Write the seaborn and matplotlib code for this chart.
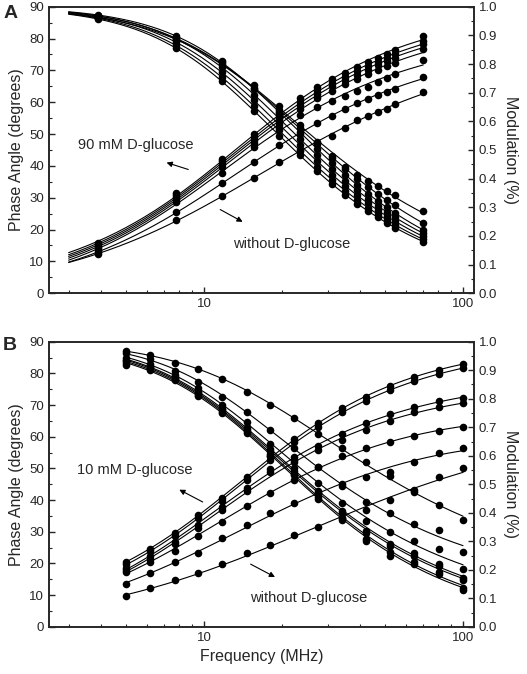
import numpy as np
import pandas as pd
import matplotlib
matplotlib.use('Agg')
import matplotlib.pyplot as plt
from matplotlib.ticker import MultipleLocator, LogLocator, NullFormatter, FormatStrFormatter
import seaborn as sns

# Panel A: harmonics of ~3.9 MHz, 90 mM D-glucose series
freq_a = [3.9, 7.8, 11.7, 15.6, 19.5, 23.4, 27.3, 31.2, 35.1, 39.0, 42.9, 46.8, 50.7, 54.6, 70.2]
phase_a = [
    [15.8, 31.5, 42.3, 50.0, 56.5, 61.2, 64.7, 67.3, 69.2, 71.0, 72.6, 74.0, 75.2, 76.4, 80.8],
    [15.3, 30.8, 41.4, 49.0, 55.5, 60.0, 63.5, 66.0, 68.0, 69.8, 71.3, 72.7, 73.9, 75.0, 79.3],
    [14.8, 30.2, 40.6, 48.2, 54.5, 59.0, 62.5, 65.0, 67.0, 68.7, 70.2, 71.6, 72.8, 73.9, 78.2],
    [14.3, 29.5, 39.7, 47.2, 53.4, 57.8, 61.2, 63.6, 65.6, 67.3, 68.8, 70.1, 71.3, 72.4, 76.6],
    [13.7, 28.6, 37.8, 46.0, 52.0, 56.0, 58.6, 60.5, 62.1, 63.6, 64.9, 66.3, 67.5, 68.8, 73.3],
    [12.9, 25.4, 34.7, 41.3, 46.6, 50.0, 53.5, 55.8, 57.9, 59.6, 61.0, 62.2, 63.3, 64.3, 68.0],
    [12.3, 23.0, 30.5, 36.2, 41.3, 45.0, 47.3, 49.4, 51.8, 54.3, 55.8, 56.8, 57.9, 59.5, 63.1],
]
mod_a = [
    [0.966, 0.890, 0.812, 0.728, 0.653, 0.588, 0.528, 0.478, 0.442, 0.414, 0.392, 0.373, 0.357, 0.343, 0.288],
    [0.962, 0.885, 0.800, 0.715, 0.640, 0.578, 0.522, 0.473, 0.434, 0.400, 0.370, 0.345, 0.325, 0.308, 0.244],
    [0.971, 0.898, 0.806, 0.714, 0.632, 0.562, 0.504, 0.454, 0.413, 0.378, 0.348, 0.322, 0.300, 0.280, 0.221],
    [0.968, 0.887, 0.789, 0.693, 0.610, 0.540, 0.482, 0.433, 0.393, 0.359, 0.330, 0.305, 0.284, 0.265, 0.209],
    [0.964, 0.876, 0.771, 0.673, 0.588, 0.518, 0.461, 0.414, 0.375, 0.342, 0.314, 0.290, 0.269, 0.251, 0.198],
    [0.960, 0.865, 0.754, 0.653, 0.568, 0.498, 0.442, 0.396, 0.358, 0.326, 0.299, 0.276, 0.256, 0.239, 0.188],
    [0.957, 0.855, 0.740, 0.637, 0.550, 0.482, 0.426, 0.381, 0.344, 0.313, 0.287, 0.265, 0.246, 0.229, 0.180],
]

# Panel B: 5-100 MHz, 10 mM D-glucose series
freq_b = [5.0, 6.2, 7.7, 9.5, 11.7, 14.6, 18.0, 22.3, 27.6, 34.2, 42.3, 52.4, 64.9, 80.4, 100.0]
phase_b = [
    [20.5, 24.7, 29.6, 35.3, 40.8, 47.3, 53.8, 59.3, 64.3, 69.0, 72.6, 76.0, 78.8, 81.2, 83.0],
    [19.8, 23.8, 28.7, 34.2, 39.7, 46.2, 52.7, 58.2, 63.2, 67.8, 71.3, 74.7, 77.5, 79.8, 81.7],
    [18.6, 22.3, 26.8, 32.3, 37.9, 43.9, 49.8, 53.6, 57.0, 61.0, 64.3, 67.1, 69.4, 71.3, 72.1],
    [17.9, 21.3, 26.0, 31.3, 37.0, 42.9, 48.8, 52.6, 55.8, 58.9, 62.1, 65.1, 67.8, 69.4, 70.6],
    [17.3, 20.5, 24.0, 28.8, 33.2, 38.0, 42.3, 46.5, 50.3, 53.8, 56.5, 58.5, 60.2, 61.8, 63.2],
    [13.6, 17.1, 20.5, 23.3, 27.9, 32.0, 35.8, 39.2, 42.3, 45.0, 47.3, 49.0, 52.0, 54.8, 56.5],
    [9.6, 12.1, 14.7, 17.0, 19.8, 23.2, 25.8, 28.9, 31.4, 34.2, 36.8, 40.0, 42.6, 47.4, 50.0],
]
mod_b = [
    [0.969, 0.952, 0.927, 0.903, 0.868, 0.823, 0.779, 0.731, 0.678, 0.628, 0.578, 0.528, 0.480, 0.427, 0.373],
    [0.959, 0.939, 0.898, 0.860, 0.807, 0.754, 0.690, 0.628, 0.559, 0.494, 0.439, 0.398, 0.361, 0.339, 0.264],
    [0.944, 0.922, 0.883, 0.837, 0.778, 0.717, 0.642, 0.578, 0.506, 0.433, 0.372, 0.331, 0.300, 0.272, 0.202],
    [0.936, 0.914, 0.876, 0.824, 0.764, 0.700, 0.622, 0.556, 0.478, 0.406, 0.337, 0.292, 0.258, 0.222, 0.170],
    [0.931, 0.911, 0.872, 0.820, 0.760, 0.694, 0.617, 0.548, 0.470, 0.398, 0.328, 0.283, 0.250, 0.213, 0.164],
    [0.926, 0.907, 0.869, 0.813, 0.753, 0.686, 0.606, 0.537, 0.456, 0.383, 0.309, 0.261, 0.228, 0.194, 0.136],
    [0.920, 0.902, 0.866, 0.809, 0.749, 0.680, 0.600, 0.531, 0.450, 0.376, 0.300, 0.250, 0.220, 0.187, 0.129],
]

sns.set_style('ticks')
plt.rcParams['font.family'] = ['Liberation Sans', 'DejaVu Sans']


def to_long(freq, series):
    rows = []
    for i, vals in enumerate(series):
        for f, v in zip(freq, vals):
            rows.append({'freq': f, 'value': v, 'series': i})
    return pd.DataFrame(rows)


def fit_long(freq, series, f_lo, f_hi, kind):
    # smooth curve per series: quadratic of log(tan(angle)) against log(frequency)
    grid = np.logspace(np.log10(f_lo), np.log10(f_hi), 150)
    rows = []
    for i, vals in enumerate(series):
        vals = np.asarray(vals, dtype=float)
        ang = np.radians(vals) if kind == 'phase' else np.arccos(vals)
        coef = np.polyfit(np.log10(freq), np.log10(np.tan(ang)), 2)
        t = 10 ** np.polyval(coef, np.log10(grid))
        fit = np.degrees(np.arctan(t)) if kind == 'phase' else 1 / np.sqrt(1 + t ** 2)
        for f, v in zip(grid, fit):
            rows.append({'freq': f, 'value': v, 'series': i})
    return pd.DataFrame(rows)


def draw_panel(ax, freq, phase, mod, f_lo, f_hi):
    ax2 = ax.twinx()
    for a, data, kind in [(ax, phase, 'phase'), (ax2, mod, 'mod')]:
        sns.lineplot(data=fit_long(freq, data, f_lo, f_hi, kind), x='freq', y='value', units='series',
                     estimator=None, color='black', lw=0.8, ax=a, legend=False)
        sns.scatterplot(data=to_long(freq, data), x='freq', y='value', color='black',
                        s=30, edgecolor='black', linewidth=0, ax=a, legend=False, zorder=3)
    ax.set_xscale('log')
    ax.set_xlim(2.52, 110)
    ax.set_ylim(0, 90)
    ax2.set_ylim(0, 1.0)
    ax.set_xticks([10, 100])
    ax.set_xticklabels(['10', '100'])
    ax.xaxis.set_minor_locator(LogLocator(base=10, subs=np.arange(2, 10)))
    ax.xaxis.set_minor_formatter(NullFormatter())
    ax.yaxis.set_major_locator(MultipleLocator(10))
    ax.yaxis.set_minor_locator(MultipleLocator(5))
    ax2.yaxis.set_major_locator(MultipleLocator(0.1))
    ax2.yaxis.set_minor_locator(MultipleLocator(0.05))
    ax2.yaxis.set_major_formatter(FormatStrFormatter('%.1f'))
    for a in (ax, ax2):
        a.tick_params(which='major', direction='in', length=4, width=1, labelsize=9.5)
        a.tick_params(which='minor', direction='in', length=2, width=0.8)
        for sp in a.spines.values():
            sp.set_linewidth(1.2)
    ax.set_ylabel('Phase Angle (degrees)', fontsize=11.5, labelpad=4)
    ax2.set_ylabel('Modulation (%)', fontsize=11.5, rotation=270, labelpad=15)
    ax.set_xlabel('')
    return ax2


fig = plt.figure(figsize=(5.27, 6.74), dpi=100)
ax_a = fig.add_axes([0.093, 0.565, 0.806, 0.425])
ax_b = fig.add_axes([0.093, 0.070, 0.806, 0.423])

draw_panel(ax_a, freq_a, phase_a, mod_a, 3.0, 70.2)
draw_panel(ax_b, freq_b, phase_b, mod_b, 5.0, 100.0)
ax_b.set_xlabel('Frequency (MHz)', fontsize=11.5)

arrow = dict(arrowstyle='-|>', color='black', lw=0.8, mutation_scale=8)
ax_a.text(3.26, 46.6, '90 mM D-glucose', fontsize=10.5, va='center')
ax_a.annotate('', xy=(7.0, 41.3), xytext=(8.9, 38.6), arrowprops=arrow)
ax_a.text(12.9, 15.6, 'without D-glucose', fontsize=10.5, va='center')
ax_a.annotate('', xy=(14.4, 22.0), xytext=(11.3, 26.7), arrowprops=arrow)

ax_b.text(3.24, 49.5, '10 mM D-glucose', fontsize=10.5, va='center')
ax_b.annotate('', xy=(7.85, 43.7), xytext=(10.1, 39.0), arrowprops=arrow)
ax_b.text(15.1, 9.0, 'without D-glucose', fontsize=10.5, va='center')
ax_b.annotate('', xy=(19.2, 15.3), xytext=(14.8, 20.2), arrowprops=arrow)

fig.text(0.006, 0.992, 'A', fontsize=14, fontweight='bold', va='top')
fig.text(0.006, 0.500, 'B', fontsize=14, fontweight='bold', va='top')

fig.savefig('out.png', dpi=100)
